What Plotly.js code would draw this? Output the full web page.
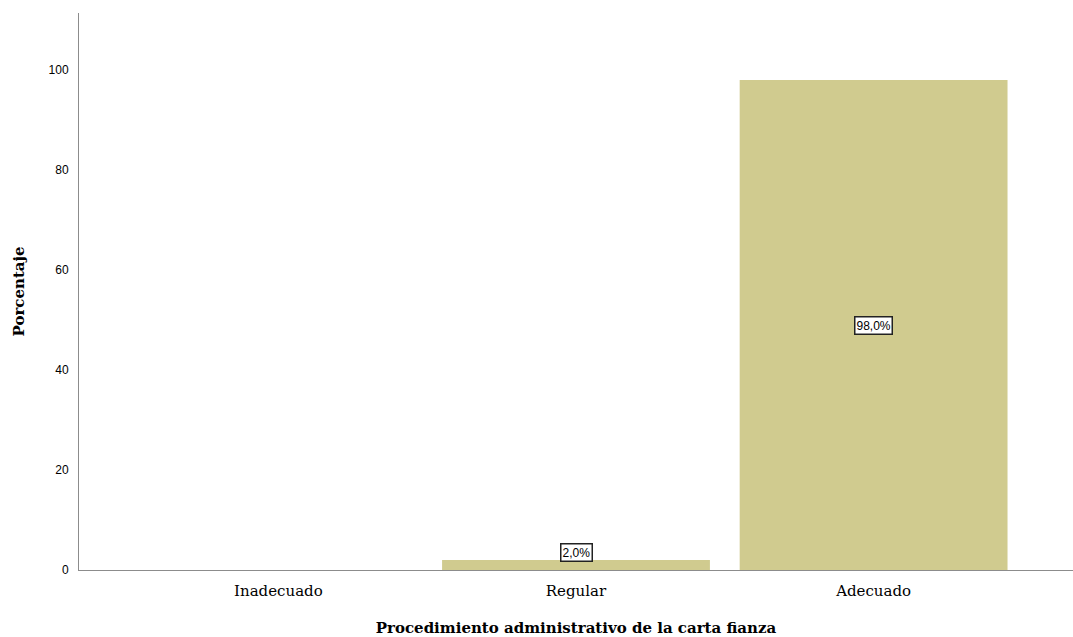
<!DOCTYPE html>
<html>
<head>
<meta charset="utf-8">
<script src="https://cdn.plot.ly/plotly-3.0.1.min.js"></script>
<style>html,body{margin:0;padding:0;background:#fff}#chart{width:1073px;height:637px}</style>
</head>
<body>
<div id="chart"></div>
<script>
const categories = ["Inadecuado", "Regular", "Adecuado"];
const percentages = [0, 2.0, 98.0];
const labels = ["", "2,0%", "98,0%"];
const yTicks = [0, 20, 40, 60, 80, 100];

const trace = {
  type: 'bar',
  x: categories,
  y: percentages,
  width: 0.9,
  marker: {color: '#d0cb8f', line: {width: 0}},
  hoverinfo: 'x+y'
};

const annotations = [];
categories.forEach((c, i) => {
  if (!labels[i]) return;
  const small = percentages[i] < 10;
  annotations.push({
    x: c, y: small ? percentages[i] : percentages[i] / 2,
    xref: 'x', yref: 'y',
    yanchor: small ? 'bottom' : 'middle',
    yshift: small ? -2 : 0,
    text: labels[i], showarrow: false,
    font: {family: 'Liberation Sans, Arial, sans-serif', size: 12, color: '#000'},
    bgcolor: '#ffffff', bordercolor: '#222222', borderwidth: 1.5, borderpad: 1
  });
});

const serif = 'DejaVu Serif, serif';
const layout = {
  width: 1073, height: 637,
  margin: {l: 79, r: 0, t: 13, b: 67},
  paper_bgcolor: '#fff', plot_bgcolor: '#fff',
  showlegend: false,
  xaxis: {
    type: 'category',
    range: [-0.67, 2.67],
    showgrid: false, zeroline: false,
    showline: true, linecolor: '#8c8c8c', linewidth: 1,
    ticks: '', ticklabelstandoff: 7,
    tickfont: {family: serif, size: 15, color: '#000'},
    title: {text: '<b>Procedimiento administrativo de la carta fianza</b>', standoff: 23,
      font: {family: serif, size: 15, color: '#000'}}
  },
  yaxis: {
    range: [0, 111.4],
    tickvals: yTicks,
    ticktext: yTicks.map(String),
    showgrid: false, zeroline: false,
    showline: true, linecolor: '#8c8c8c', linewidth: 1,
    ticks: '', ticklabelstandoff: 7,
    tickfont: {family: 'Liberation Sans, Arial, sans-serif', size: 12, color: '#000'},
    title: {text: '<b>Porcentaje</b>', standoff: 20,
      font: {family: serif, size: 15, color: '#000'}}
  },
  annotations: annotations
};

Plotly.newPlot('chart', [trace], layout, {displayModeBar: false, staticPlot: true});
</script>
</body>
</html>
